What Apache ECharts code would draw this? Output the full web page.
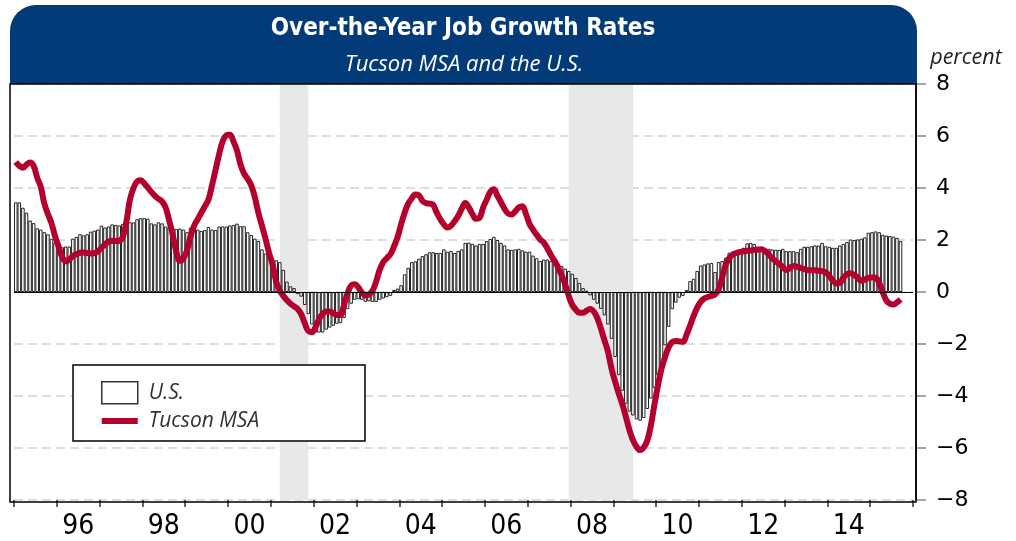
<!DOCTYPE html>
<html>
<head>
<meta charset="utf-8">
<script src="https://cdn.jsdelivr.net/npm/echarts@6.0.0/dist/echarts.min.js"></script>
<style>
  html, body { margin: 0; padding: 0; background: #fff; }
  #chart { width: 1016px; height: 541px; }
</style>
</head>
<body>
<div id="chart"></div>
<script>
// year tick labels (two digit), one band per year 1995..2015
const yearLabels = ['95', '96', '97', '98', '99', '00', '01', '02', '03', '04', '05',
  '06', '07', '08', '09', '10', '11', '12', '13', '14', '15'];

// U.S. over-the-year job growth, monthly from Jan 1995
const usGrowth = [
  3.45, 3.45, 3.24, 3.05, 2.75, 2.65, 2.45, 2.4, 2.3, 2.22, 2.05, 1.9,      // 1995
  1.75, 1.72, 1.75, 1.75, 2.05, 2.12, 2.22, 2.18, 2.22, 2.32, 2.36, 2.4,    // 1996
  2.55, 2.48, 2.52, 2.6, 2.58, 2.56, 2.62, 2.62, 2.68, 2.68, 2.8, 2.84,     // 1997
  2.84, 2.82, 2.64, 2.6, 2.68, 2.64, 2.52, 2.48, 2.44, 2.42, 2.44, 2.4,     // 1998
  2.3, 2.47, 2.5, 2.4, 2.35, 2.38, 2.5, 2.4, 2.38, 2.52, 2.52, 2.52,        // 1999
  2.56, 2.58, 2.63, 2.53, 2.53, 2.3, 2.19, 2.05, 1.96, 1.64, 1.48, 1.45,    // 2000
  1.25, 1.22, 1.15, 0.85, 0.4, 0.22, 0.15, -0.08, -0.18, -0.5, -0.85, -1.25, // 2001
  -1.56, -1.56, -1.56, -1.45, -1.37, -1.3, -1.22, -1.2, -1.0, -0.66, -0.45, -0.3, // 2002
  -0.28, -0.3, -0.38, -0.36, -0.38, -0.38, -0.3, -0.25, -0.2, -0.15, 0.08, 0.13, // 2003
  0.26, 0.68, 0.93, 1.15, 1.18, 1.28, 1.38, 1.45, 1.53, 1.53, 1.5, 1.5,     // 2004
  1.64, 1.55, 1.58, 1.5, 1.58, 1.64, 1.89, 1.9, 1.85, 1.79, 1.85, 1.85,     // 2005
  1.96, 2.04, 2.12, 2.0, 1.89, 1.79, 1.64, 1.62, 1.64, 1.66, 1.6, 1.55,     // 2006
  1.55, 1.4, 1.3, 1.19, 1.25, 1.25, 1.19, 1.12, 1.05, 1.0, 0.9, 0.81,       // 2007
  0.7, 0.54, 0.35, 0.15, 0.05, -0.13, -0.3, -0.45, -0.65, -0.9, -1.25, -1.8, // 2008
  -2.5, -3.2, -3.8, -4.3, -4.6, -4.75, -4.9, -4.95, -4.85, -4.5, -4.1, -3.7, // 2009
  -3.2, -2.75, -2.05, -1.34, -0.66, -0.41, -0.22, -0.15, 0.08, 0.42, 0.51, 0.81, // 2010
  1.02, 1.06, 1.1, 1.12, 0.77, 1.15, 1.19, 1.32, 1.51, 1.51, 1.51, 1.53,    // 2011
  1.7, 1.87, 1.89, 1.85, 1.74, 1.7, 1.66, 1.66, 1.64, 1.62, 1.62, 1.66,     // 2012
  1.57, 1.57, 1.57, 1.53, 1.66, 1.74, 1.74, 1.76, 1.79, 1.79, 1.89, 1.76,   // 2013
  1.74, 1.7, 1.7, 1.79, 1.85, 1.92, 2.02, 2.0, 2.02, 2.05, 2.1, 2.28,       // 2014
  2.3, 2.33, 2.3, 2.2, 2.17, 2.15, 2.13, 2.08, 1.96                         // 2015
];

// Tucson MSA over-the-year job growth, monthly from Jan 1995
const tucsonGrowth = [
  5.0, 4.85, 4.78, 4.9, 4.98, 4.85, 4.4, 4.05, 3.4, 3.0, 2.65, 2.15,        // 1995
  1.75, 1.35, 1.18, 1.25, 1.38, 1.45, 1.51, 1.52, 1.5, 1.48, 1.5, 1.55,     // 1996
  1.7, 1.82, 1.94, 1.97, 1.96, 1.97, 2.12, 2.7, 3.55, 4.0, 4.25, 4.3,       // 1997
  4.18, 4.02, 3.85, 3.7, 3.58, 3.48, 3.25, 2.75, 2.2, 1.55, 1.2, 1.3,       // 1998
  1.6, 2.15, 2.55, 2.8, 3.05, 3.3, 3.55, 4.1, 4.7, 5.3, 5.8, 6.02,          // 1999
  6.05, 5.8, 5.45, 4.9, 4.55, 4.35, 4.1, 3.65, 3.05, 2.55, 2.05, 1.5,       // 2000
  1.05, 0.4, 0.05, -0.15, -0.32, -0.45, -0.55, -0.65, -0.85, -1.2, -1.5, -1.55, // 2001
  -1.35, -1.05, -0.85, -0.75, -0.75, -0.82, -0.88, -0.88, -0.5, -0.05, 0.25, 0.3, // 2002
  0.18, -0.02, -0.13, -0.1, 0.05, 0.4, 0.85, 1.15, 1.3, 1.45, 1.75, 2.1,    // 2003
  2.6, 3.05, 3.4, 3.6, 3.75, 3.72, 3.5, 3.42, 3.4, 3.35, 3.05, 2.8,         // 2004
  2.6, 2.48, 2.55, 2.72, 2.92, 3.2, 3.42, 3.25, 3.0, 2.82, 2.85, 3.25,      // 2005
  3.55, 3.85, 3.95, 3.7, 3.45, 3.2, 3.02, 2.98, 3.1, 3.25, 3.3, 3.0,        // 2006
  2.62, 2.4, 2.2, 2.02, 1.9, 1.68, 1.42, 1.2, 0.95, 0.65, 0.3, -0.15,       // 2007
  -0.5, -0.68, -0.8, -0.8, -0.72, -0.65, -0.75, -1.0, -1.4, -1.85, -2.3, -2.95, // 2008
  -3.45, -3.9, -4.3, -4.8, -5.3, -5.7, -5.95, -6.08, -5.98, -5.72, -5.15, -4.35, // 2009
  -3.6, -2.95, -2.5, -2.12, -1.92, -1.88, -1.9, -1.92, -1.65, -1.3, -0.92, -0.6, // 2010
  -0.38, -0.25, -0.19, -0.15, -0.1, 0.1, 0.55, 1.05, 1.3, 1.45, 1.5, 1.54,  // 2011
  1.57, 1.59, 1.6, 1.62, 1.63, 1.64, 1.58, 1.45, 1.3, 1.18, 1.08, 0.95,     // 2012
  0.85, 0.93, 1.0, 0.97, 0.93, 0.88, 0.84, 0.84, 0.84, 0.82, 0.8, 0.76,     // 2013
  0.62, 0.45, 0.33, 0.35, 0.55, 0.68, 0.72, 0.66, 0.55, 0.43, 0.48, 0.55,   // 2014
  0.56, 0.55, 0.35, 0.0, -0.32, -0.45, -0.48, -0.4, -0.28                  // 2015
];

// recessions (first and last month shaded)
const recessions = [['2001-03', '2001-11'], ['2007-12', '2009-06']];

// month categories Jan 1995 .. Dec 2015
const months = [];
for (let y = 1995; y <= 2015; y++) {
  for (let m = 1; m <= 12; m++) months.push(y + '-' + (m < 10 ? '0' + m : m));
}

const narrow = '"Liberation Sans Narrow", "DejaVu Sans Condensed", "Roboto", sans-serif';
const italicFont = '"Open Sans", "Noto Sans", sans-serif';

const chart = echarts.init(document.getElementById('chart'));

const option = {
  animation: false,
  grid: { left: 14, right: 103, top: 84, bottom: 39 },
  graphic: [
    {
      type: 'rect', z: 1,
      shape: { x: 10, y: 5, width: 907, height: 79, r: [26, 26, 0, 0] },
      style: { fill: '#033a78' }
    },
    {
      type: 'text', z: 2,
      style: {
        text: 'Over-the-Year Job Growth Rates', x: 463, y: 29,
        align: 'center', verticalAlign: 'middle', fill: '#fff',
        fontSize: 24, fontWeight: 'bold', fontFamily: narrow
      }
    },
    {
      type: 'text', z: 2,
      style: {
        text: 'Tucson MSA and the U.S.', x: 464, y: 65,
        align: 'center', verticalAlign: 'middle', fill: '#fff',
        fontSize: 22, fontStyle: 'italic', fontFamily: italicFont
      }
    },
    {
      type: 'text', z: 2,
      style: {
        text: 'percent', x: 966, y: 58,
        align: 'center', verticalAlign: 'middle', fill: '#222',
        fontSize: 21.5, fontStyle: 'italic', fontFamily: italicFont
      }
    },
    {
      type: 'rect', z: 5,
      shape: { x: 73, y: 365, width: 292, height: 76 },
      style: { fill: '#fff', stroke: '#000', lineWidth: 1.5 }
    },
    {
      type: 'rect', z: 50, silent: true,
      shape: { x: 10, y: 84, width: 906, height: 418 },
      style: { fill: 'none', stroke: '#000', lineWidth: 1.5 }
    }
  ],
  legend: {
    orient: 'vertical',
    left: 96,
    top: 376,
    z: 10,
    itemWidth: 36,
    itemHeight: 22,
    itemGap: 6,
    textStyle: {
      fontSize: 21, fontStyle: 'italic', color: '#333', fontFamily: italicFont,
      padding: [0, 0, 0, 6]
    },
    data: [
      { name: 'U.S.', icon: 'rect', itemStyle: { color: '#fff', borderColor: '#333', borderWidth: 1.5 } },
      { name: 'Tucson MSA', icon: 'path://M0,0L36,0L36,6L0,6Z', itemStyle: { color: '#b3002d', borderWidth: 0 } }
    ]
  },
  xAxis: [
    {
      type: 'category',
      data: months,
      boundaryGap: true,
      axisLine: { show: false },
      axisTick: { show: false },
      axisLabel: { show: false },
      splitLine: { show: false }
    },
    {
      type: 'category',
      data: yearLabels,
      position: 'bottom',
      boundaryGap: true,
      axisLine: { show: false },
      axisTick: { show: true, interval: 0, length: 7, lineStyle: { color: '#333', width: 1.5 } },
      axisLabel: {
        interval: function (idx) { return idx % 2 === 1; },
        margin: 13,
        fontSize: 28,
        color: '#000',
        fontFamily: narrow
      },
      splitLine: { show: false }
    }
  ],
  yAxis: {
    type: 'value',
    position: 'right',
    offset: 3,
    min: -8,
    max: 8,
    interval: 2,
    axisLine: { show: true, lineStyle: { color: '#000', width: 1.5 } },
    axisTick: { show: true, length: 10, lineStyle: { color: '#888', width: 1.5 } },
    axisLabel: {
      margin: 20,
      fontSize: 22,
      color: '#000',
      fontFamily: '"DejaVu Sans", sans-serif',
      formatter: function (v) { return v < 0 ? '\u2212' + (-v) : String(v); }
    },
    splitLine: { show: true, lineStyle: { color: '#d4d4d4', width: 1.5, type: [9, 5] } }
  },
  series: [
    {
      type: 'line',
      xAxisIndex: 0,
      data: [],
      z: -1,
      silent: true,
      markArea: {
        silent: true,
        itemStyle: { color: '#e8e8e8' },
        data: recessions.map(r => [{ xAxis: r[0] }, { xAxis: r[1] }])
      }
    },
    {
      name: 'U.S.',
      type: 'bar',
      xAxisIndex: 0,
      data: usGrowth,
      barCategoryGap: '0%',
      itemStyle: { color: '#fff', borderColor: '#222', borderWidth: 1 },
      z: 2,
      markLine: {
        silent: true,
        symbol: 'none',
        label: { show: false },
        lineStyle: { color: '#000', type: 'solid', width: 1.2 },
        data: [{ yAxis: 0 }]
      }
    },
    {
      name: 'Tucson MSA',
      type: 'line',
      xAxisIndex: 0,
      data: tucsonGrowth,
      smooth: 0.4,
      symbol: 'none',
      z: 4,
      lineStyle: { color: '#b3002d', width: 6 },
      itemStyle: { color: '#b3002d' }
    }
  ]
};

chart.setOption(option);
</script>
</body>
</html>
